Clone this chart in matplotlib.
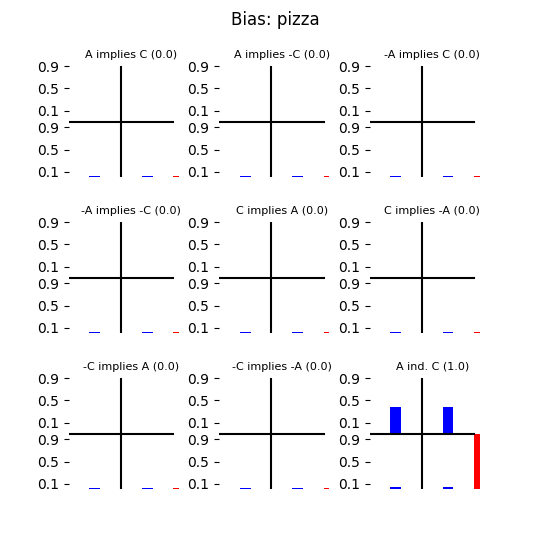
import matplotlib
matplotlib.use("Agg")
from matplotlib import pyplot as plt

titles = ["A implies C", "A implies -C", "-A implies C",
          "-A implies -C", "C implies A", "C implies -A",
          "-C implies A", "-C implies -A", "A ind. C"]
scores = [0.0, 0.0, 0.0, 0.0, 0.0, 0.0, 0.0, 0.0, 1.0]

# bar heights
top_left = [0.015] * 8 + [0.48]
top_right = [0.015] * 8 + [0.48]
bot_left = [0.025] * 8 + [0.045]
bot_right = [0.025] * 8 + [0.045]
red_h = [0.025] * 8 + [1.0]

tick_pos = [0.1, 0.5, 0.9, 1.2, 1.6, 2.0]
tick_lab = ["0.1", "0.5", "0.9", "0.1", "0.5", "0.9"]

fig, axes = plt.subplots(3, 3, figsize=(5.5, 5.5), dpi=100)
fig.subplots_adjust(hspace=0.4)
fig.suptitle("Bias: pizza")

for i, ax in enumerate(axes.flat):
    ax.bar([1, 3], [top_left[i], top_right[i]], width=0.42, bottom=1.0, color="blue")
    ax.bar([1, 3], [bot_left[i], bot_right[i]], width=0.42, color="blue")
    ax.bar([4.0], [red_h[i]], width=0.22, align="edge", color="red")
    ax.plot([2, 2], [0.02, 2], color="black", lw=1.5)
    ax.plot([0, 4], [1, 1], color="black", lw=1.5)
    ax.set_xlim(0, 4.8)
    ax.set_ylim(0, 2)
    ax.set_yticks(tick_pos)
    ax.set_yticklabels(tick_lab)
    ax.set_xticks([])
    for s in ax.spines.values():
        s.set_visible(False)
    ax.set_title("%s (%.1f)" % (titles[i], scores[i]), fontsize=8)

fig.savefig("out.png")
